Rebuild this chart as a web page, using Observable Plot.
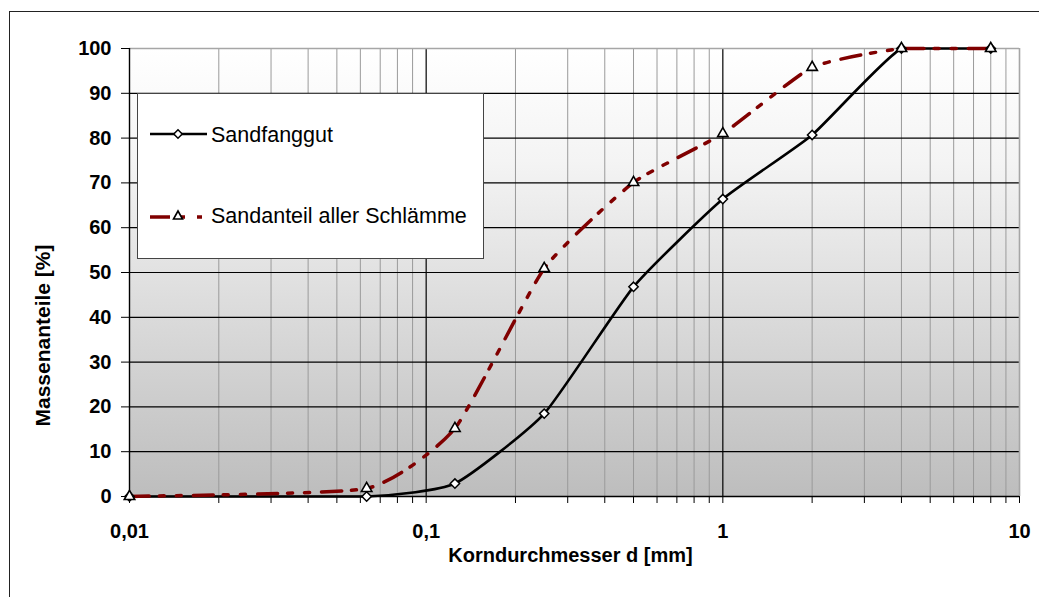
<!DOCTYPE html>
<html>
<head>
<meta charset="utf-8">
<script src="https://cdn.jsdelivr.net/npm/d3@7"></script>
<script src="https://cdn.jsdelivr.net/npm/@observablehq/plot@0.6"></script>
<style>
  html, body { margin: 0; padding: 0; background: #fff; overflow: hidden; }
  #wrap { position: relative; width: 1039px; height: 597px; }
  #frame { position: absolute; left: 9px; top: 11px; width: 1100px; height: 700px;
           border-top: 1.5px solid #222; border-left: 1.5px solid #222; }
  #chart { position: absolute; left: 0; top: 0; }
  #legend { position: absolute; left: 137px; top: 93px; width: 347px; height: 166px; }
</style>
</head>
<body>
<div id="wrap">
  <div id="frame"></div>
  <div id="chart"></div>
  <div id="legend"></div>
</div>
<script>
// ---- data ----
const sizes = [0.01, 0.063, 0.125, 0.25, 0.5, 1, 2, 4, 8];
const sandfanggut = [0, 0, 2.9, 18.5, 46.8, 66.4, 80.7, 100, 100];
const sandanteil = [0, 1.8, 15.2, 50.9, 70.1, 81, 95.8, 100, 100];
const seriesNames = ["Sandfanggut", "Sandanteil aller Schlämme"];
const yTicks = [0, 10, 20, 30, 40, 50, 60, 70, 80, 90, 100];
const xMajorTicks = [0.01, 0.1, 1, 10];
const xTickLabels = ["0,01", "0,1", "1", "10"];
const xTitle = "Korndurchmesser d [mm]";
const yTitle = "Massenanteile [%]";

// ---- derived ----
const xAllTicks = [];
for (const dec of [0.01, 0.1, 1]) for (let k = 1; k <= 9; k++) xAllTicks.push(+(dec * k).toPrecision(3));
xAllTicks.push(10);
const xMinor = xAllTicks.filter(v => !xMajorTicks.includes(v));
const fmt = v => { const i = xMajorTicks.indexOf(v); return i >= 0 ? xTickLabels[i] : ""; };

const dataA = sizes.map((s, i) => ({ x: s, y: sandfanggut[i] }));
const dataB = sizes.map((s, i) => ({ x: s, y: sandanteil[i] }));
const redDash = "20,10,5,12,5,12";

// cardinal-style smoothing (like a spreadsheet "smoothed line") without overshoot
const TENSION = 0.5;
const smooth = (context) => {
  let pts = [];
  return {
    areaStart() {}, areaEnd() {},
    lineStart() { pts = []; },
    point(x, y) { pts.push([+x, +y]); },
    lineEnd() {
      const n = pts.length;
      if (!n) return;
      const k = (1 - TENSION) / 6;
      context.moveTo(pts[0][0], pts[0][1]);
      for (let i = 0; i < n - 1; i++) {
        const p0 = pts[Math.max(i - 1, 0)], p1 = pts[i], p2 = pts[i + 1], p3 = pts[Math.min(i + 2, n - 1)];
        const lo = Math.min(p1[1], p2[1]), hi = Math.max(p1[1], p2[1]);
        const cl = v => Math.max(lo, Math.min(hi, v));
        const c1x = p1[0] + k * (p2[0] - p0[0]), c1y = cl(p1[1] + k * (p2[1] - p0[1]));
        const c2x = p2[0] - k * (p3[0] - p1[0]), c2y = cl(p2[1] - k * (p3[1] - p1[1]));
        context.bezierCurveTo(c1x, c1y, c2x, c2y, p2[0], p2[1]);
      }
    }
  };
};

const chart = Plot.plot({
  width: 1039,
  height: 597,
  marginLeft: 129,
  marginRight: 20,
  marginTop: 48,
  marginBottom: 101,
  style: { fontFamily: "'Liberation Sans', Arial, sans-serif", fontSize: "20px", fontWeight: "bold", background: "transparent", color: "#000" },
  x: { type: "log", domain: [0.01, 10] },
  y: { domain: [0, 100] },
  marks: [
    Plot.frame({ fill: "url(#bg)", stroke: null }),
    Plot.ruleX(xMinor, { stroke: "#9a9a9a", strokeWidth: 1 }),
    Plot.ruleX([0.1, 1], { stroke: "#000", strokeWidth: 1.2 }),
    Plot.ruleY(yTicks.filter(v => v > 0 && v < 100), { stroke: "#000", strokeWidth: 1.2 }),
    Plot.ruleY([100], { stroke: "#a6a6a6", strokeWidth: 1.6 }),
    Plot.ruleX([10], { stroke: "#a6a6a6", strokeWidth: 1.6 }),
    Plot.ruleX([0.01], { stroke: "#000", strokeWidth: 1.4 }),
    Plot.ruleY([0], { stroke: "#000", strokeWidth: 1.4 }),
    Plot.axisY({ ticks: yTicks, tickSize: 8, tickPadding: 10, label: null, fontSize: 20, tickFormat: d => String(d) }),
    Plot.axisX({ ticks: xAllTicks, tickSize: 7, tickPadding: 20, label: null, fontSize: 20, tickFormat: fmt }),
    Plot.line(dataA, { x: "x", y: "y", stroke: "#000", strokeWidth: 2.6, curve: smooth }),
    Plot.line(dataB, { x: "x", y: "y", stroke: "#800000", strokeWidth: 3.5, curve: smooth, strokeDasharray: redDash }),
    Plot.dot(dataA, { x: "x", y: "y", symbol: "diamond2", r: 4.2, fill: "#fff", stroke: "#000", strokeWidth: 1.5 }),
    Plot.dot(dataB, { x: "x", y: "y", symbol: "triangle2", r: 5, fill: "#fff", stroke: "#000", strokeWidth: 1.6 }),
    Plot.text([xTitle], { text: d => d, frameAnchor: "bottom", textAnchor: "middle", lineAnchor: "middle", dy: 59.5, dx: -4, fontSize: 20, fontWeight: "bold" }),
    Plot.text([yTitle], { text: d => d, frameAnchor: "left", textAnchor: "middle", lineAnchor: "middle", rotate: -90, dx: -86, dy: 63, fontSize: 21, fontWeight: "bold" })
  ]
});

// gradient background definition
const ns = "http://www.w3.org/2000/svg";
const defs = document.createElementNS(ns, "defs");
const grad = document.createElementNS(ns, "linearGradient");
grad.setAttribute("id", "bg");
grad.setAttribute("x1", "0"); grad.setAttribute("y1", "0");
grad.setAttribute("x2", "0"); grad.setAttribute("y2", "1");
[["0", "#ffffff"], ["0.25", "#f4f4f4"], ["1", "#bdbdbd"]].forEach(([o, c]) => {
  const st = document.createElementNS(ns, "stop");
  st.setAttribute("offset", o); st.setAttribute("stop-color", c);
  grad.appendChild(st);
});
defs.appendChild(grad);
chart.insertBefore(defs, chart.firstChild);
document.getElementById("chart").appendChild(chart);

// legend
const lg = document.getElementById("legend");
lg.innerHTML = `
<svg width="347" height="166" xmlns="http://www.w3.org/2000/svg" style="font-family:'Liberation Sans', Arial, sans-serif;">
  <rect x="0.5" y="0.5" width="346" height="165" fill="#fff" stroke="#444" stroke-width="1"/>
  <line x1="13" x2="70" y1="41" y2="41" stroke="#000" stroke-width="2.6"/>
  <path d="M41,36.8L45.2,41L41,45.2L36.8,41Z" fill="#fff" stroke="#000" stroke-width="1.5"/>
  <text x="74" y="49" font-size="21.5">${seriesNames[0]}</text>
  <line x1="13" x2="70" y1="124" y2="124" stroke="#800000" stroke-width="3.5" stroke-dasharray="${redDash}"/>
  <path d="M41,118L45.5,126L36.5,126Z" fill="#fff" stroke="#000" stroke-width="1.6"/>
  <text x="74" y="130" font-size="21.5">${seriesNames[1]}</text>
</svg>`;
</script>
</body>
</html>
